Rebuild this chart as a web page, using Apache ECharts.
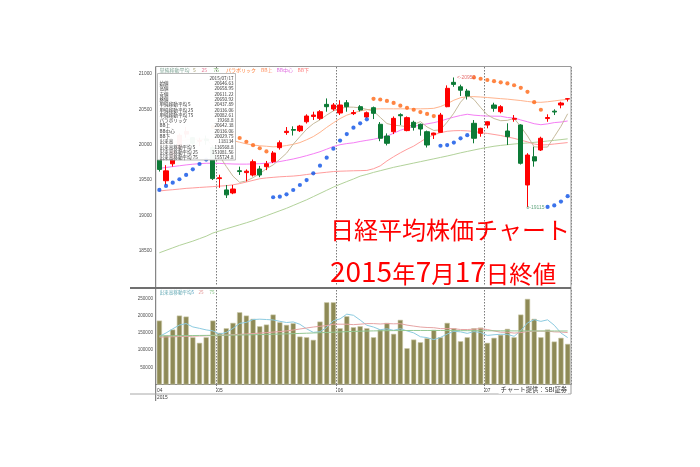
<!DOCTYPE html>
<html><head><meta charset="utf-8">
<script src="https://cdn.jsdelivr.net/npm/echarts@6/dist/echarts.min.js"></script>
<style>html,body{margin:0;padding:0;background:#fff;}#c{width:700px;height:467px;}</style>
</head><body><div id="c"></div>
<script>
const dates = ['2015/04/17','2015/04/20','2015/04/21','2015/04/22','2015/04/23','2015/04/24','2015/04/27','2015/04/28','2015/04/30',
'2015/05/01','2015/05/07','2015/05/08','2015/05/11','2015/05/12','2015/05/13','2015/05/14','2015/05/15','2015/05/18','2015/05/19','2015/05/20','2015/05/21','2015/05/22','2015/05/25','2015/05/26','2015/05/27','2015/05/28','2015/05/29',
'2015/06/01','2015/06/02','2015/06/03','2015/06/04','2015/06/05','2015/06/08','2015/06/09','2015/06/10','2015/06/11','2015/06/12','2015/06/15','2015/06/16','2015/06/17','2015/06/18','2015/06/19','2015/06/22','2015/06/23','2015/06/24','2015/06/25','2015/06/26','2015/06/29','2015/06/30',
'2015/07/01','2015/07/02','2015/07/03','2015/07/06','2015/07/07','2015/07/08','2015/07/09','2015/07/10','2015/07/13','2015/07/14','2015/07/15','2015/07/16','2015/07/17'];
const opens = [19790,19490,19730,19950,20150,20100,20050,20080,19960,19520,
19360,19317,19632,19605,19571,19656,19689,19760,19958,20172,
20215,20198,20325,20400,20373,20571,20505,20449,20594,20440,
20538,20392,20524,20289,20123,20184,20425,20200,20317,20289,
20184,20140,20175,20538,20883,20820,20760,20303,20161,20278,
20562,20467,20194,20360,20279,19430,19830,19925,20370,20475,
20562,20646.63];
const closes = [19650,19630,19910,20134,20188,20020,20059,20058,19520,19532,
19290,19373,19620,19625,19760,19571,19730,19883,20028,20190,
20205,20264,20406,20420,20467,20538,20562,20562,20538,20455,
20491,20453,20444,20091,20020,20373,20410,20383,20246,20222,
19996,20165,20420,20798,20854,20771,20689,20091,20232,20325,
20515,20538,20114,20373,19737,19854,19770,20091,20385,20463,
20590,20650.92];
const lows = [19620,19430,19690,19920,20100,19960,19980,20000,19500,19390,
19246,19300,19572,19480,19550,19540,19640,19740,19930,20140,
20130,20180,20300,20350,20350,20467,20480,20420,20467,20420,
20470,20380,20363,20050,19990,20150,20280,20190,20200,20127,
19960,20081,20170,20530,20820,20690,20640,20020,20113,20232,
20467,20444,19996,20325,19720,19115,19689,19911,20325,20420,
20515,20611.22];
const highs = [19840,19710,19950,20160,20252,20110,20100,20130,19990,19575,
19430,19430,19689,19650,19790,19700,19770,19910,20060,20250,
20260,20280,20430,20467,20490,20655,20590,20630,20632,20491,
20560,20470,20540,20320,20160,20400,20444,20400,20340,20300,
20200,20170,20450,20840,20952,20850,20790,20349,20240,20330,
20594,20560,20303,20420,20290,19880,19972,20113,20430,20501,
20608,20658.95];
const ma5 = [19844,19790,19790,19843,19902,19976,20062,20092,19969,19838,
19692,19555,19467,19488,19534,19590,19661,19714,19794,19880,
20007,20114,20219,20297,20352,20419,20479,20510,20533,20531,
20522,20500,20476,20387,20300,20276,20268,20255,20286,20327,
20251,20202,20210,20320,20447,20602,20706,20641,20527,20422,
20370,20340,20345,20373,20255,20123,19970,19965,19967,20113,
20260,20438];
const bbMid = [19665,19678,19690,19702,19714,19724,19732,19737,19738,19735,
19731,19727,19725,19725,19728,19732,19738,19748,19762,19779,
19798,19820,19845,19872,19901,19937,19974,20000,20016,20027,
20046,20062,20077,20100,20119,20163,20204,20235,20260,20278,
20295,20312,20334,20365,20391,20414,20431,20418,20411,20405,
20404,20403,20385,20379,20350,20325,20297,20283,20295,20313,
20321,20336];
const bbUpper = [19990,20010,20030,20050,20066,20076,20080,20078,20074,20070,
20066,20058,20035,20012,19996,19985,19978,19970,19975,19988,
20005,20030,20070,20115,20175,20245,20310,20370,20418,20450,
20478,20495,20505,20508,20508,20508,20508,20508,20508,20508,
20510,20515,20540,20580,20630,20665,20680,20680,20675,20668,
20660,20652,20645,20635,20625,20612,20602,20600,20608,20620,
20632,20642];
const bbLower = [19345,19355,19363,19372,19382,19388,19395,19401,19407,19414,
19420,19432,19450,19472,19495,19518,19530,19538,19546,19551,
19556,19565,19578,19590,19600,19610,19620,19625,19628,19631,
19633,19636,19660,19700,19770,19830,19885,19935,19980,20040,
20100,20140,20170,20190,20198,20200,20196,20188,20170,20160,
20145,20130,20110,20090,20065,20040,20010,19995,20000,20010,
20020,20030];
const ma75 = [18470,18505,18540,18575,18605,18635,18670,18705,18750,18780,
18810,18838,18866,18895,18925,18960,18995,19030,19065,19100,
19140,19180,19220,19265,19310,19355,19400,19440,19478,19515,
19555,19580,19608,19632,19656,19680,19700,19720,19740,19760,
19780,19800,19820,19840,19862,19885,19905,19925,19945,19962,
19978,19990,20000,20010,20018,20025,20033,20042,20052,20062,
20072,20083];
const sarHigh = [null,null,null,null,null,null,null,null,20252,20237,
20203,20150,20095,20042,19993,19950,19905,null,null,null,
null,null,null,null,null,null,null,null,null,null,
null,null,20650,20640,20620,20592,20553,20522,20495,20462,
20436,20405,null,null,null,null,null,20952,20934,20916,
20900,20883,20867,20842,20805,20748,20602,20495,null,null,
null,null];
const sarLow = [19360,19416,19463,19511,19572,19652,19727,19790,null,null,
null,null,null,null,null,null,null,19256,19265,19298,
19359,19430,19500,19595,19703,19816,19944,20059,20151,20241,
20303,20360,null,null,null,null,null,null,null,null,
null,null,19985,19995,20030,20090,20135,null,null,null,
null,null,null,null,null,null,null,null,19120,19140,
19195,19272];
const volume = [186000,142400,159900,200600,197700,137500,121200,137500,186000,150200,
163700,179300,210200,200600,191000,169500,174400,203500,181100,173500,
178200,139500,137500,129900,183100,239200,239200,163700,198500,166600,
169500,163700,137500,159900,179300,147400,188100,105500,130800,123000,
134600,159000,137500,179300,163700,125900,137500,163700,165700,121200,
135800,144500,161900,137500,203500,249100,191000,137500,159900,125000,
135800,118134];
const volMa5 = [140000,150000,162000,173000,177300,167600,163400,158900,156000,146500,
151700,163300,177900,180800,189000,190100,189100,187800,183900,180400,
182100,175200,162000,151700,153600,165800,185800,191000,204700,201400,
187500,172400,167200,159400,162000,157600,162400,156000,150200,139000,
136400,130600,137000,146700,154800,153100,148800,154000,151300,142800,
144800,146200,145800,140200,156600,179300,188600,183700,188200,172500,
149800,136569];
const volMa25 = [138000,138500,139000,139500,140000,140600,141200,141800,142500,143200,
144000,145000,146000,147000,148200,149500,151000,152500,154000,156000,
158500,161500,164500,167200,169400,171500,175400,175500,175400,174200,
175500,177200,177200,176100,177300,176600,177000,172800,170000,167300,
165900,165300,162600,162600,162200,160100,160000,161000,162500,160000,
155900,152100,152000,149600,151000,154200,155300,155300,155300,153100,
152700,151082];
const volMa75 = [141500,141700,141900,142100,142300,142500,142700,142900,143100,143300,
143500,143800,144100,144500,144900,145300,145800,146300,146800,147400,
148000,148600,149300,150000,150700,151400,152200,153000,153800,154500,
155100,155600,156000,156300,156600,156800,157000,157100,157200,157200,
157200,157200,157100,157000,156900,156800,156700,156600,156500,156400,
156300,156200,156100,156000,155950,155900,155850,155800,155780,155760,
155740,155725];
const priceTicks = [18500,19000,19500,20000,20500,21000];
const volTicks = [50000,100000,150000,200000,250000];
const monthLabels = ['04','05','06','07'];
const yearLabel = '2015';
const monthStartIdx = [0,9,27,49];
const highMark = [44, 20952];
const lowMark = [55, 19115];
const infoDate = '2015/07/17';
const infoLabels = ['始値','高値','安値','終値','単純移動平均 5','単純移動平均 25','単純移動平均 75','パラボリック','BB上','BB中心','BB下','出来高','出来高移動平均 5','出来高移動平均 25','出来高移動平均 75'];
const infoValues = ['20646.63','20658.95','20611.22','20650.92','20437.89','20336.06','20082.61','19268.8','20642.38','20336.06','20029.75','118134','136568.8','151081.56','155724.8'];
const titleLines = ['日経平均株価チャート','2015年7月17日終値'];
const creditText = 'チャート提供：SBI証券';

const CJK = '"Noto Sans CJK JP", sans-serif';
const candles = dates.map((d,i)=>[opens[i], closes[i], lows[i], highs[i]]);
const toPairs = arr => arr.map((v,i)=> v==null ? null : [i, v]).filter(p=>p);
const boundaries = monthStartIdx.map(i=> i - 0.5);

const chart = echarts.init(document.getElementById('c'), null, {renderer:'canvas', width:700, height:467});

function txt(x, y, s, color, size, align, extra){
  return Object.assign({type:'text', x:x, y:y, z:20, silent:true,
    style:{text:s, fill:color, fontSize:size, fontFamily:CJK, align:align||'left', verticalAlign:'middle'}}, extra||{});
}
const graphics = [];
graphics.push({type:'line', z:15, silent:true, shape:{x1:155.7,y1:66.5,x2:571,y2:66.5}, style:{stroke:'#9a9a9a', lineWidth:1}});
graphics.push({type:'line', z:15, silent:true, shape:{x1:571,y1:66.5,x2:571,y2:394}, style:{stroke:'#9a9a9a', lineWidth:1}});
graphics.push({type:'line', z:15, silent:true, shape:{x1:155.7,y1:66.5,x2:155.7,y2:401}, style:{stroke:'#6a6a6a', lineWidth:1}});
graphics.push({type:'line', z:15, silent:true, shape:{x1:130,y1:288,x2:571,y2:288}, style:{stroke:'#707070', lineWidth:2}});
graphics.push({type:'line', z:15, silent:true, shape:{x1:130,y1:394,x2:571,y2:394}, style:{stroke:'#a8a8a8', lineWidth:1}});
const legMain = [['単純移動平均',159.5,'#7fa595'],['5',193,'#a8a070'],['25',201.5,'#e8809a'],['75',213.5,'#80b870'],['パラボリック',226,'#ff7a30'],['BB上',261,'#ff9060'],['BB中心',276.5,'#e070e0'],['BB下',297.5,'#ff8080']];
legMain.forEach(l=>graphics.push(txt(l[1], 70.5, l[0], l[2], 5)));
const legVol = [['出来高移動平均',159.5,'#5aa4b0'],['5',191.5,'#60a8c8'],['25',198.5,'#e09090'],['75',209.5,'#80c080']];
legVol.forEach(l=>graphics.push(txt(l[1], 292.5, l[0], l[2], 4.6)));
graphics.push({type:'rect', z:18, silent:true, shape:{x:157.5,y:73.5,width:78,height:86.5}, style:{fill:'rgba(255,255,255,0.96)', stroke:'#a8a8a8', lineWidth:0.8}});
graphics.push(txt(233.5, 77.8, infoDate, '#333', 4.6, 'right'));
infoLabels.forEach((s,k)=>{
  const y = 83.3 + k*5.3;
  graphics.push(txt(159.5, y, s, '#333', 4.6, 'left'));
  graphics.push(txt(233.5, y, infoValues[k], '#333', 4.6, 'right'));
});
function richTitle(s){
  return s.split(/(\d+)/).filter(p=>p.length).map(p=> /^\d+$/.test(p) ? '{d|'+p+'}' : '{c|'+p+'}').join('');
}
graphics.push({type:'text', x:330, y:230, z:30, silent:true, style:{text:titleLines[0], fill:'#ff0000', fontSize:24, fontFamily:CJK, align:'left', verticalAlign:'middle'}});
graphics.push({type:'text', x:330, y:270.5, z:30, silent:true, style:{text:richTitle(titleLines[1]), fill:'#ff0000', fontFamily:CJK, align:'left', verticalAlign:'middle',
  rich:{c:{fontSize:23.5, fontFamily:CJK, fill:'#ff0000', verticalAlign:'bottom', lineHeight:30}, d:{fontSize:28, fontFamily:CJK, fill:'#ff0000', verticalAlign:'bottom', lineHeight:30}}}});
graphics.push({type:'text', x:568, y:389.5, z:25, silent:true, style:{text:creditText, fill:'#333', fontSize:6.3, fontFamily:CJK, align:'right', verticalAlign:'middle', backgroundColor:'#fff', padding:[1,1,1,2]}});

const option = {
  animation:false,
  backgroundColor:'#ffffff',
  textStyle:{fontFamily:'"Liberation Sans", sans-serif'},
  grid:[
    {left:156, top:67, width:415, height:219},
    {left:156, top:290, width:415, height:94.5}
  ],
  xAxis:[
    {type:'category', gridIndex:0, data:dates, boundaryGap:true,
      axisLine:{show:false}, axisTick:{show:false}, axisLabel:{show:false},
      splitLine:{show:true, interval:(i)=> monthStartIdx.indexOf(i)>0, lineStyle:{type:[1.5,1.5], color:'#7a7a7a', width:1}}},
    {type:'category', gridIndex:1, data:dates, boundaryGap:true,
      axisLine:{show:true, lineStyle:{color:'#8a8a8a'}}, axisTick:{show:false}, axisLabel:{show:false},
      splitLine:{show:true, interval:(i)=> monthStartIdx.indexOf(i)>0, lineStyle:{type:[1.5,1.5], color:'#7a7a7a', width:1}}},
    {type:'value', gridIndex:1, min:-0.5, max:61.5, position:'bottom',
      axisLine:{show:false}, splitLine:{show:false},
      axisTick:{show:true, customValues:boundaries.slice(1), length:9, lineStyle:{color:'#7a7a7a', type:[1.5,1.5]}},
      axisLabel:{show:true, customValues:boundaries, showMinLabel:true, showMaxLabel:true, align:'left', fontSize:4.8, lineHeight:7.6, color:'#404040', margin:2, padding:[0,0,0,1],
        formatter:(v)=>{const k = boundaries.findIndex(b=>Math.abs(b-v)<1e-6); if(k<0) return ''; return k===0 ? monthLabels[0]+'\n'+yearLabel : monthLabels[k];}}}
  ],
  yAxis:[
    {type:'value', gridIndex:0, min:18000, max:21100, interval:500, axisLine:{show:false}, axisTick:{show:false}, splitLine:{show:false},
      axisLabel:{fontSize:4.8, color:'#505050', margin:4, formatter:(v)=> priceTicks.indexOf(v)>=0 ? String(v) : ''}},
    {type:'value', gridIndex:1, min:0, max:275000, interval:50000, axisLine:{show:false}, axisTick:{show:false}, splitLine:{show:false},
      axisLabel:{fontSize:4.6, color:'#505050', margin:3, formatter:(v)=> volTicks.indexOf(v)>=0 ? String(v) : ''}}
  ],
  series:[
    {name:'MA75', type:'line', xAxisIndex:0, yAxisIndex:0, data:ma75, symbol:'none', lineStyle:{color:'#b2d29a', width:1}, z:2},
    {name:'BB下', type:'line', xAxisIndex:0, yAxisIndex:0, data:bbLower, symbol:'none', lineStyle:{color:'#ff9c9c', width:1}, z:2},
    {name:'BB上', type:'line', xAxisIndex:0, yAxisIndex:0, data:bbUpper, symbol:'none', lineStyle:{color:'#ffb48e', width:1}, z:2},
    {name:'BB中心', type:'line', xAxisIndex:0, yAxisIndex:0, data:bbMid, symbol:'none', lineStyle:{color:'#f57ef5', width:1}, z:2},
    {name:'MA5', type:'line', xAxisIndex:0, yAxisIndex:0, data:ma5, symbol:'none', lineStyle:{color:'#c6ba9c', width:1}, z:2},
    {name:'日経平均', type:'candlestick', xAxisIndex:0, yAxisIndex:0, data:candles, barWidth:'70%', z:3,
      itemStyle:{color:'#ff0000', color0:'#0c7a36', borderColor:'#ff0000', borderColor0:'#0c7a36', borderWidth:1}},
    {name:'SAR上', type:'scatter', xAxisIndex:0, yAxisIndex:0, data:toPairs(sarHigh), symbolSize:4.2, itemStyle:{color:'#ff6614'}, z:4},
    {name:'SAR下', type:'scatter', xAxisIndex:0, yAxisIndex:0, data:toPairs(sarLow), symbolSize:4.2, itemStyle:{color:'#0a50e6'}, z:4},
    {name:'高値', type:'scatter', xAxisIndex:0, yAxisIndex:0, data:[highMark], symbolSize:0.1, z:5,
      label:{show:true, position:'right', distance:3, formatter:'<-'+highMark[1], fontSize:5, color:'#e04848'}},
    {name:'安値', type:'scatter', xAxisIndex:0, yAxisIndex:0, data:[lowMark], symbolSize:0.1, z:5,
      label:{show:true, position:'right', distance:-1, formatter:'o-'+lowMark[1], fontSize:5, color:'#3c9060'}},
    {name:'出来高', type:'bar', xAxisIndex:1, yAxisIndex:1, data:volume, barWidth:'78%', z:2,
      itemStyle:{color:'#8e8a56', borderColor:'#c9c7a6', borderWidth:0.6}},
    {name:'出来高MA5', type:'line', xAxisIndex:1, yAxisIndex:1, data:volMa5, symbol:'none', lineStyle:{color:'#8ccbe0', width:1}, z:3},
    {name:'出来高MA25', type:'line', xAxisIndex:1, yAxisIndex:1, data:volMa25, symbol:'none', lineStyle:{color:'#e6a4a4', width:1}, z:3},
    {name:'出来高MA75', type:'line', xAxisIndex:1, yAxisIndex:1, data:volMa75, symbol:'none', lineStyle:{color:'#94c894', width:1}, z:3}
  ],
  graphic: graphics
};
chart.setOption(option);
</script>
</body></html>
